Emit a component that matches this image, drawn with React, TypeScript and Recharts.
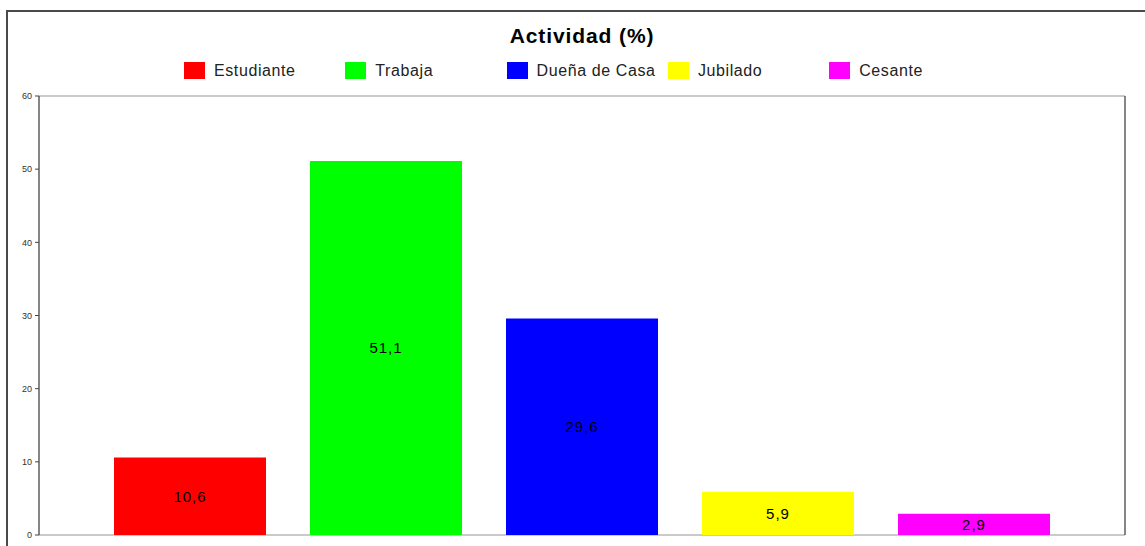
import React from "react";
import { BarChart, Bar, XAxis, YAxis, CartesianGrid, Cell, LabelList } from "recharts";

const categories = ["Estudiante", "Trabaja", "Dueña de Casa", "Jubilado", "Cesante"];
const values = [10.6, 51.1, 29.6, 5.9, 2.9];
const colors = ["#FF0000", "#00FF00", "#0000FF", "#FFFF00", "#FF00FF"];
const yTicks = [0, 10, 20, 30, 40, 50, 60];
const title = "Actividad (%)";

const data = categories.map((name, i) => ({ name, value: values[i] }));

const FONT = "'Liberation Sans', Arial, sans-serif";

export default function App() {
  return (
    <div style={{ position: "absolute", left: 0, top: 0, width: 1145, height: 546, background: "#fff", overflow: "hidden", fontFamily: FONT }}>
      <div style={{ position: "absolute", left: 6, top: 10, width: 1200, height: 600, borderLeft: "2px solid #4a4a4a", borderTop: "2px solid #4a4a4a" }} />
      <div style={{ position: "absolute", left: 39, top: 24, width: 1086, textAlign: "center", fontSize: 21, fontWeight: "bold", lineHeight: "24px", color: "#000", letterSpacing: "0.9px" }}>
        {title}
      </div>
      {categories.map((c, i) => (
        <div key={c} style={{ position: "absolute", left: 184 + i * 161.3, top: 62, height: 17, display: "flex", alignItems: "center" }}>
          <div style={{ width: 21, height: 17, background: colors[i] }} />
          <span style={{ marginLeft: 9, fontSize: 16, color: "#222", lineHeight: "17px", letterSpacing: "0.6px" }}>{c}</span>
        </div>
      ))}
      <div style={{ position: "absolute", left: 0, top: 0 }}>
        <BarChart width={1145} height={546} data={data} margin={{ top: 96, right: 0, bottom: 11, left: 0 }} barSize={152}>
          <CartesianGrid vertical={false} stroke="#959595" strokeWidth={1} />
          <XAxis dataKey="name" hide padding={{ left: 53, right: 53 }} />
          <YAxis
            yAxisId="left"
            orientation="left"
            width={39}
            domain={[0, 60]}
            ticks={yTicks}
            interval={0}
            tickSize={4}
            tickMargin={3}
            axisLine={{ stroke: "#444", strokeWidth: 1.3 }}
            tickLine={{ stroke: "#444" }}
            tick={{ fontSize: 9, fill: "#333", fontFamily: FONT }}
          />
          <YAxis
            yAxisId="right"
            orientation="right"
            width={20}
            domain={[0, 60]}
            ticks={yTicks}
            interval={0}
            tickSize={4}
            tickMargin={3}
            axisLine={{ stroke: "#444", strokeWidth: 1.3 }}
            tickLine={{ stroke: "#444" }}
            tick={{ fontSize: 9, fill: "#333", fontFamily: FONT }}
          />
          <Bar dataKey="value" yAxisId="left" isAnimationActive={false}>
            {data.map((d, i) => (
              <Cell key={d.name} fill={colors[i]} />
            ))}
            <LabelList
              dataKey="value"
              position="center"
              formatter={(v: any) => String(v).replace(".", ",")}
              style={{ fontSize: 15, fill: "#000", fontFamily: FONT, letterSpacing: "1px" }}
            />
          </Bar>
        </BarChart>
      </div>
    </div>
  );
}
